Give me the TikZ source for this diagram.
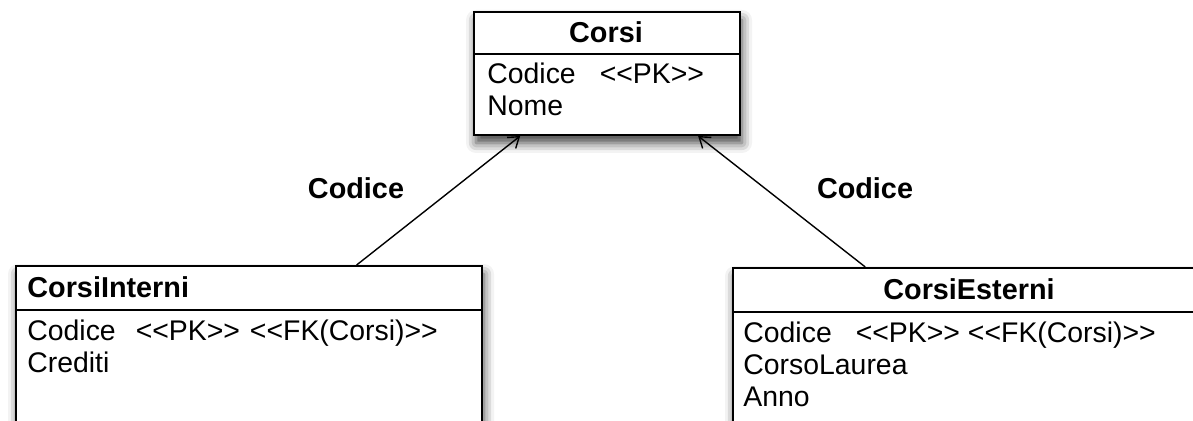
\documentclass[tikz,border=0pt]{standalone}
\usepackage{fontspec}
\setmainfont{Liberation Sans}
\usetikzlibrary{calc,positioning,shadows.blur,arrows.meta}
\newcommand{\stereo}[1]{<\kern0pt<#1>\kern0pt>}

\begin{document}
\begin{tikzpicture}[x=0.5pt, y=-0.5pt,
	tablebox/.style={draw, line width=1pt, fill=white, anchor=north west, inner sep=0pt,
		blur shadow={shadow xshift=1pt, shadow yshift=-4pt, shadow blur radius=5pt, shadow opacity=75}},
	tabletitle/.style={font=\fontsize{14.4}{16}\selectfont\bfseries, inner sep=0pt},
	tableattr/.style={font=\fontsize{14.2}{16}\selectfont, align=left, anchor=north west, inner sep=0pt},
	fklink/.style={line width=0.7pt, -{Straight Barb[length=5pt, width=7pt]}},
	fklabel/.style={font=\fontsize{14.4}{16}\selectfont\bfseries, inner sep=0pt}]
		%%%%% START %%%%%
		\useasboundingbox (0,0) rectangle (1193,421);
		\clip (0,0) rectangle (1193,421);
		
		% tabella Corsi
		\node[tablebox, minimum width=133pt, minimum height=61.5pt] (corsi) at (473,11) {};
		\draw[line width=1pt] ($(corsi.north west)+(0,43)$) -- ($(corsi.north east)+(0,43)$);
		\node[tabletitle] (corsiname) at (606,32) {Corsi};
		\node[tableattr] (corsiattr) at (487,63) {Codice\hspace{12pt}\stereo{PK}\\Nome};
		
		% tabella CorsiInterni
		\node[tablebox, minimum width=233pt, minimum height=100pt] (interni) at (15,265) {};
		\draw[line width=1pt] ($(interni.north west)+(0,45)$) -- ($(interni.north east)+(0,45)$);
		\node[tabletitle, anchor=west] (interniname) at (27,287) {CorsiInterni};
		\node[tableattr] (interniattr) at (27,320) {Codice\hspace{10pt}\stereo{PK}\hspace{5pt}\stereo{FK(Corsi)}\\Crediti};
		
		% tabella CorsiEsterni
		\node[tablebox, minimum width=237pt, minimum height=100pt] (esterni) at (732,267) {};
		\draw[line width=1pt] ($(esterni.north west)+(0,45)$) -- ($(esterni.north east)+(0,45)$);
		\node[tabletitle] (esterniname) at (969,289) {CorsiEsterni};
		\node[tableattr] (esterniattr) at (743,322) {Codice\hspace{12pt}\stereo{PK}\hspace{4pt}\stereo{FK(Corsi)}\\CorsoLaurea\\Anno};
		
		% chiavi esterne
		\draw[fklink] ($(interni.north west)!0.73!(interni.north east)$) -- ($(corsi.south west)!0.176!(corsi.south east)$);
		\draw[fklink] ($(esterni.north west)!0.28!(esterni.north east)$) -- ($(corsi.south west)!0.84!(corsi.south east)$);
		\node[fklabel] (codiceL) at (356,188) {Codice};
		\node[fklabel] (codiceR) at (865,188) {Codice};
		%%%%% END %%%%%
\end{tikzpicture}
\end{document}
